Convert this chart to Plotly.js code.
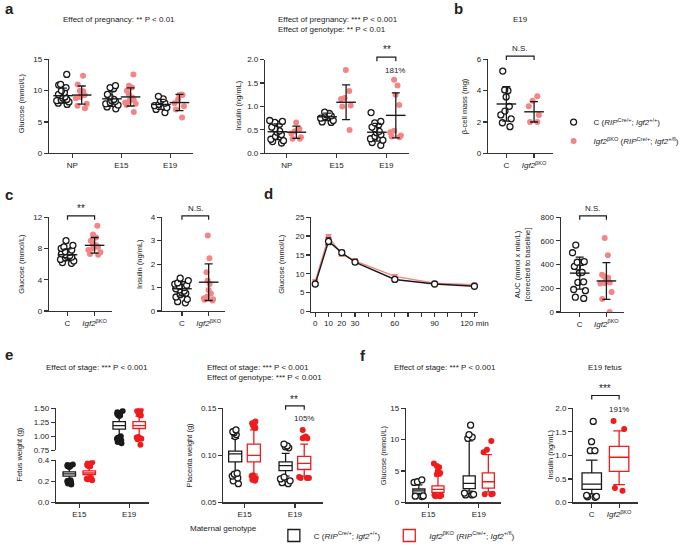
<!DOCTYPE html>
<html><head><meta charset="utf-8">
<script src="https://cdn.plot.ly/plotly-3.0.1.min.js"></script>
<style>html,body{margin:0;padding:0;background:#fff}#chart{width:685px;height:550px}</style>
</head><body><div id="chart"></div>
<script>
// ================= DATA =================
const stageLabels = ['NP', 'E15', 'E19'];
const genoLabels = ['C', '<i>Igf2</i><sup>βKO</sup>'];
const stageLabels2 = ['E15', 'E19'];

// a: glucose (mmol/L), groups NP, E15, E19
const aGluC = [[12.6,11.0,10.9,10.5,10.0,9.7,9.4,9.2,9.0,8.8,8.6,8.5,8.4,8.2,8.0,7.8],
               [10.8,10.5,10.3,9.4,9.0,8.6,8.4,8.3,8.1,7.9,7.7,7.4,7.1],
               [9.1,8.7,8.4,8.0,7.8,7.6,7.3,7.0,6.5]];
const aGluK = [[12.4,11.0,10.0,9.9,9.5,9.3,9.0,8.8,7.9,7.6,7.2],
               [12.6,10.8,10.5,10.0,9.4,8.9,8.7,8.5,8.3,8.1,7.9,7.7,6.6],
               [9.4,9.3,9.3,8.6,8.0,7.5,7.0,5.7]];
const aGluMeanC = [9.2, 8.7, 7.8],  aGluSdC = [1.2, 1.2, 0.8];
const aGluMeanK = [9.3, 9.0, 8.1],  aGluSdK = [1.45, 1.45, 1.3];

// a: insulin (ng/mL)
const aInsC = [[0.70,0.68,0.66,0.62,0.56,0.52,0.48,0.45,0.40,0.36,0.30,0.27,0.25,0.22],
               [0.88,0.85,0.82,0.80,0.78,0.75,0.70,0.67,0.66],
               [0.87,0.68,0.65,0.61,0.56,0.52,0.47,0.44,0.40,0.36,0.31,0.28,0.23,0.17]];
const aInsK = [[0.66,0.52,0.47,0.42,0.34,0.31,0.31],
               [1.78,1.33,1.18,1.16,1.02,1.00,0.50],
               [1.57,1.45,1.25,1.03,0.48,0.45,0.38,0.36,0.34]];
const aInsMeanC = [0.46, 0.78, 0.45], aInsSdC = [0.17, 0.08, 0.19];
const aInsMeanK = [0.45, 1.09, 0.81], aInsSdK = [0.13, 0.37, 0.48];

// b: beta-cell mass (mg) E19
const bMassC = [5.25,4.05,4.0,3.6,3.0,2.7,2.45,2.2,1.95,1.7];
const bMassK = [3.65,3.35,3.0,2.45,2.0,2.0];
const bMean = [3.15, 2.65], bSd = [1.1, 0.65];

// c: glucose and insulin
const cGluC = [9.0,8.4,8.2,8.0,7.8,7.6,7.5,7.3,7.2,7.1,7.0,6.9,6.8,6.6,6.4,6.2,6.1];
const cGluK = [10.9,9.8,9.4,9.0,8.6,8.4,8.3,8.2,8.0,7.8,7.5,7.3,7.2];
const cGluMean = [7.2, 8.4], cGluSd = [0.75, 1.0];
const cInsC = [1.40,1.30,1.20,1.15,1.10,1.05,1.00,0.95,0.90,0.85,0.80,0.75,0.70,0.60,0.50,0.40,0.35];
const cInsK = [3.22,2.25,1.65,1.30,1.15,0.90,0.75,0.62,0.55,0.50,0.48,0.45];
const cInsMean = [0.95, 1.23], cInsSd = [0.3, 0.78];

// d: OGTT
const dTime = [0, 10, 20, 30, 60, 90, 120];
const dGluC = [7.3, 18.6, 15.6, 13.1, 8.5, 7.3, 6.7];
const dSdC  = [0.3, 0.9, 0.6, 0.5, 0.3, 0.3, 0.3];
const dGluK = [8.0, 19.7, 15.2, 13.4, 9.3, 7.5, 7.1];
const dSdK  = [0.4, 0.7, 0.5, 0.6, 0.4, 0.3, 0.3];
const dAucC = [565,500,425,420,418,385,380,335,330,255,250,190,180,125,115];
const dAucK = [625,478,315,300,290,268,250,245,240,170,110,0];
const dAucMean = [328, 262], dAucSd = [135, 155];

// e: box stats [lower whisker, q1, median, q3, upper whisker]
const eFetusC = [[0.22,0.25,0.27,0.29,0.33], [1.01,1.13,1.19,1.26,1.35]];
const eFetusK = [[0.24,0.265,0.28,0.30,0.33], [1.00,1.14,1.19,1.26,1.36]];
const eFetusOutC = [[0.36,0.355,0.35,0.345,0.34,0.34,0.335,0.21,0.205,0.20,0.19,0.18,0.17],
                    [1.45,1.43,1.41,1.40,1.38,1.37,1.36,1.00,0.98,0.96,0.93,0.90,0.88]];
const eFetusOutK = [[0.38,0.37,0.36,0.355,0.35,0.345,0.34,0.235,0.23,0.225,0.22,0.22,0.21],
                    [1.47,1.45,1.43,1.41,1.39,1.37,0.99,0.98,0.96,0.95,0.85]];
const ePlacC = [[0.082,0.093,0.1015,0.1045,0.118], [0.078,0.0838,0.089,0.093,0.102]];
const ePlacK = [[0.080,0.093,0.100,0.112,0.127], [0.078,0.085,0.0915,0.099,0.112]];
const ePlacOutC = [[0.127,0.125,0.124,0.122,0.120,0.081,0.080,0.078,0.076,0.073,0.070],
                   [0.112,0.110,0.109,0.108,0.077,0.075,0.073,0.071,0.070]];
const ePlacOutK = [[0.136,0.134,0.132,0.131,0.130,0.129,0.079,0.078,0.076,0.074,0.073],
                   [0.127,0.120,0.119,0.118,0.118,0.077,0.076,0.076,0.076]];

// f: fetal glucose (E15, E19) and E19 fetal insulin
const fGluC = [[1.2,1.45,1.85,2.15,2.8], [1.8,2.2,3.05,4.25,9.8]];
const fGluK = [[1.3,1.6,2.1,2.65,4.2], [1.7,2.3,3.3,4.7,7.6]];
const fGluOutC = [[3.6,3.3,3.2,1.05,1.0,0.95], [12.3,10.8,10.4,10.2,1.5,1.3,1.2,1.2]];
const fGluOutK = [[6.2,5.8,5.6,5.0,4.7,4.5,1.2,1.1,1.0,1.0], [9.8,8.4,8.0,1.4,1.3,1.3]];
const fInsC = [0.18,0.28,0.39,0.63,0.90];
const fInsK = [0.38,0.66,0.96,1.19,1.52];
const fInsOutC = [1.72,1.29,1.10,1.10,0.15,0.13,0.12,0.11];
const fInsOutK = [1.73,1.56,0.31,0.25];

// ================= STYLE / HELPERS =================
const W = 685, H = 550;
const FONT = 'Arial, "Liberation Sans", Helvetica, sans-serif';
const BLK = '#1a1a1a', PINK = '#f28585', RED = '#ee1c1c', AXC = '#333333', TXT = '#222222';
const px = x => x / W;
const py = y => 1 - y / H;

const layout = {
  width: W, height: H, margin: {l: 0, r: 0, t: 0, b: 0},
  paper_bgcolor: '#fff', plot_bgcolor: 'rgba(0,0,0,0)',
  font: {family: FONT, size: 8, color: TXT},
  hovermode: false, showlegend: true, boxmode: 'overlay',
  shapes: [], annotations: []
};
const axStyle = {showline: true, linecolor: AXC, linewidth: 1.2, ticks: 'outside', ticklen: 4,
  tickwidth: 1.2, tickcolor: AXC, showgrid: false, zeroline: false, fixedrange: true,
  tickfont: {family: FONT, size: 8, color: TXT}, type: 'linear'};

function xAx(n, x0, x1, anchor, range, tickvals, ticktext) {
  layout[n === 1 ? 'xaxis' : 'xaxis' + n] = Object.assign({}, axStyle, {
    domain: [px(x0), px(x1)], anchor: anchor, range: range,
    tickmode: 'array', tickvals: tickvals, ticktext: ticktext});
}
function yAx(n, top, bot, anchor, range, dtick, fmt) {
  layout[n === 1 ? 'yaxis' : 'yaxis' + n] = Object.assign({}, axStyle, {
    domain: [py(bot), py(top)], anchor: anchor, range: range,
    tickmode: 'linear', tick0: range[0], dtick: dtick, tickformat: fmt});
}
function txt(x, y, text, o) {
  o = o || {};
  layout.annotations.push({xref: 'paper', yref: 'paper', x: px(x), y: py(y), text: text,
    showarrow: false, xanchor: o.xanchor || 'center', yanchor: o.yanchor || 'middle',
    textangle: o.angle || 0,
    font: {family: FONT, size: o.size || 8, color: TXT}});
}
function bracket(xa, x0, x1, ytop) {
  const yt = py(ytop).toFixed(5), yb = py(ytop + 4).toFixed(5);
  layout.shapes.push({type: 'path', xref: xa, yref: 'paper',
    path: 'M' + x0 + ',' + yb + ' L' + x0 + ',' + yt + ' L' + x1 + ',' + yt + ' L' + x1 + ',' + yb,
    line: {color: BLK, width: 1.2}});
}

const traces = [];
function dots(xa, ya, pos, vals, ko, w) {
  traces.push({type: 'box', xaxis: xa, yaxis: ya, x0: pos, y: vals, width: w,
    boxpoints: 'all', jitter: 1, pointpos: 0, whiskerwidth: 0,
    fillcolor: 'rgba(0,0,0,0)', line: {width: 0, color: 'rgba(0,0,0,0)'},
    marker: ko ? {color: PINK, size: 6, line: {width: 0}}
               : {color: '#ffffff', size: 6, line: {color: BLK, width: 1.3}},
    showlegend: false, hoverinfo: 'skip'});
}
function meanSd(xa, ya, xs, means, sds) {
  traces.push({type: 'scatter', mode: 'markers', xaxis: xa, yaxis: ya, x: xs, y: means,
    marker: {symbol: 'line-ew', size: 14, color: BLK, line: {color: BLK, width: 1.4}},
    error_y: {type: 'data', array: sds, visible: true, color: BLK, thickness: 1.3, width: 4},
    showlegend: false, hoverinfo: 'skip', cliponaxis: false});
}
function boxStat(xa, ya, pos, s, color, w, legendName, legendId) {
  const t = {type: 'box', xaxis: xa, yaxis: ya, x: [pos], lowerfence: [s[0]], q1: [s[1]],
    median: [s[2]], q3: [s[3]], upperfence: [s[4]], width: w, boxpoints: false,
    fillcolor: 'rgba(255,255,255,0)', line: {color: color, width: 1.3}, whiskerwidth: 0.6,
    showlegend: false, hoverinfo: 'skip'};
  if (legendName) { t.showlegend = true; t.legend = legendId; t.name = legendName; }
  traces.push(t);
}
function outliers(xa, ya, pos, vals, color, open, w) {
  traces.push({type: 'box', xaxis: xa, yaxis: ya, x0: pos, y: vals, width: w,
    boxpoints: 'all', jitter: 0.8, pointpos: 0, whiskerwidth: 0,
    fillcolor: 'rgba(0,0,0,0)', line: {width: 0, color: 'rgba(0,0,0,0)'},
    marker: open ? {color: '#ffffff', size: 6, line: {color: color, width: 1.3}}
                 : {color: color, size: 6, line: {width: 0}},
    showlegend: false, hoverinfo: 'skip'});
}

const off = 0.19;
const nameC = 'C (<i>RIP</i><sup>Cre/+</sup>; <i>Igf2</i><sup>+/+</sup>)';
const nameK = '<i>Igf2</i><sup>βKO</sup> (<i>RIP</i><sup>Cre/+</sup>; <i>Igf2</i><sup>+/fl</sup>)';

// ================= PANEL a =================
xAx(1, 50, 197, 'y', [-0.48, 2.46], [0, 1, 2], stageLabels);
yAx(1, 60.7, 156.7, 'x', [0, 15], 5, 'd');
xAx(2, 271, 418, 'y2', [-0.439, 2.452], [0, 1, 2], stageLabels);
yAx(2, 61, 156.7, 'x2', [0, 2], 0.5, '.1f');
for (let i = 0; i < 3; i++) {
  dots('x', 'y', i - off, aGluC[i], false, 0.32);
  dots('x', 'y', i + off, aGluK[i], true, 0.28);
  dots('x2', 'y2', i - off, aInsC[i], false, 0.32);
  dots('x2', 'y2', i + off, aInsK[i], true, 0.28);
}
meanSd('x', 'y', [0 - off, 1 - off, 2 - off], aGluMeanC, aGluSdC);
meanSd('x', 'y', [0 + off, 1 + off, 2 + off], aGluMeanK, aGluSdK);
meanSd('x2', 'y2', [0 - off, 1 - off, 2 - off], aInsMeanC, aInsSdC);
meanSd('x2', 'y2', [0 + off, 1 + off, 2 + off], aInsMeanK, aInsSdK);
bracket('x2', 2 - off, 2 + off, 58.5);
txt(396, 51, '**', {size: 10});
txt(404, 72, '181%');
txt(122, 20, 'Effect of pregnancy: ** P < 0.01');
txt(282, 20, 'Effect of pregnancy: *** P < 0.001', {xanchor: 'left'});
txt(282, 30, 'Effect of genotype: ** P < 0.01', {xanchor: 'left'});
txt(22, 106, 'Glucose (mmol/L)', {angle: -90, size: 7.5});
txt(244, 108, 'Insulin (ng/mL)', {angle: -90, size: 7.5});
txt(3, 9, '<b>a</b>', {xanchor: 'left', size: 15});

// ================= PANEL b =================
xAx(3, 499, 565, 'y3', [-0.66, 1.67], [0, 1], genoLabels);
yAx(3, 60.7, 156.7, 'x3', [0, 6], 2, 'd');
dots('x3', 'y3', 0, bMassC, false, 0.5);
dots('x3', 'y3', 1, bMassK, true, 0.45);
meanSd('x3', 'y3', [0, 1], bMean, bSd);
bracket('x3', 0, 1, 57.3);
txt(532, 50, 'N.S.');
txt(532, 20, 'E19');
txt(475, 109, 'β-cell mass (mg)', {angle: -90, size: 7.5});
txt(462, 9, '<b>b</b>', {xanchor: 'left', size: 15});
traces.push({type: 'scatter', mode: 'markers', xaxis: 'x3', yaxis: 'y3', x: [null], y: [null],
  name: nameC, legend: 'legend', showlegend: true,
  marker: {color: '#fff', size: 6, line: {color: BLK, width: 1.3}}});
traces.push({type: 'scatter', mode: 'markers', xaxis: 'x3', yaxis: 'y3', x: [null], y: [null],
  name: nameK, legend: 'legend', showlegend: true,
  marker: {color: PINK, size: 6, line: {width: 0}}});

// ================= PANEL c =================
xAx(4, 50, 115, 'y4', [-0.686, 1.66], [0, 1], genoLabels);
yAx(4, 222, 318, 'x4', [0, 12], 4, 'd');
xAx(5, 165.7, 230, 'y5', [-0.744, 1.61], [0, 1], genoLabels);
yAx(5, 222, 318, 'x5', [0, 4], 1, 'd');
dots('x4', 'y4', 0, cGluC, false, 0.62);
dots('x4', 'y4', 1, cGluK, true, 0.55);
meanSd('x4', 'y4', [0, 1], cGluMean, cGluSd);
dots('x5', 'y5', 0, cInsC, false, 0.62);
dots('x5', 'y5', 1, cInsK, true, 0.55);
meanSd('x5', 'y5', [0, 1], cInsMean, cInsSd);
bracket('x4', 0, 1, 220.7);
bracket('x5', 0, 1, 220.7);
txt(83, 213, '**', {size: 10});
txt(200, 213, 'N.S.');
txt(22, 270, 'Glucose (mmol/L)', {angle: -90, size: 7.5});
txt(142, 270, 'Insulin (ng/mL)', {angle: -90, size: 7.5});
txt(3, 199, '<b>c</b>', {xanchor: 'left', size: 15});

// ================= PANEL d =================
const dTicks = [0,10,20,30,40,50,60,70,80,90,100,110,120];
const dTickText = ['0','10','20','30','','','60','','','90','','','120 min'];
xAx(6, 318.3, 489, 'y6', [-2.95, 122.95], dTicks, dTickText);
yAx(6, 222, 318.5, 'x6', [0, 25], 5, 'd');
traces.push({type: 'scatter', mode: 'lines+markers', xaxis: 'x6', yaxis: 'y6', x: dTime, y: dGluK,
  line: {color: PINK, width: 1.4}, marker: {color: PINK, size: 5, symbol: 'square'},
  error_y: {type: 'data', array: dSdK, visible: true, color: PINK, thickness: 1.2, width: 3},
  showlegend: false, hoverinfo: 'skip', cliponaxis: false});
traces.push({type: 'scatter', mode: 'lines+markers', xaxis: 'x6', yaxis: 'y6', x: dTime, y: dGluC,
  line: {color: BLK, width: 1.4}, marker: {color: '#fff', size: 6, line: {color: BLK, width: 1.3}},
  error_y: {type: 'data', array: dSdC, visible: true, color: BLK, thickness: 1.2, width: 3},
  showlegend: false, hoverinfo: 'skip', cliponaxis: false});
txt(287, 270, 'Glucose (mmol/L)', {angle: -90, size: 7.5});
txt(268, 198, '<b>d</b>', {xanchor: 'left', size: 15});

xAx(7, 573.3, 638, 'y7', [-0.71, 1.66], [0, 1], genoLabels);
yAx(7, 222, 319, 'x7', [0, 800], 200, 'd');
dots('x7', 'y7', 0, dAucC, false, 0.62);
dots('x7', 'y7', 1, dAucK, true, 0.55);
meanSd('x7', 'y7', [0, 1], dAucMean, dAucSd);
bracket('x7', 0, 1, 220.7);
txt(606, 213, 'N.S.');
txt(534, 270, 'AUC (mmol x min/L)<br>[corrected to baseline]', {angle: -90, size: 7.5});

// ================= PANEL e =================
// fetus weight: broken axis (bottom y8, top y12) sharing x8
xAx(8, 57.3, 152, 'y8', [-0.465, 1.39], [0, 1], stageLabels2);
yAx(8, 470.5, 513.7, 'x8', [0, 0.4], 0.2, '.1f');
yAx(12, 417.3, 460.5, 'x8', [0.75, 1.5], 0.25, '.2f');
const eo = 0.2;
boxStat('x8', 'y8', 0 - eo, eFetusC[0], BLK, 0.25);
boxStat('x8', 'y8', 0 + eo, eFetusK[0], RED, 0.25);
boxStat('x8', 'y12', 1 - eo, eFetusC[1], BLK, 0.25);
boxStat('x8', 'y12', 1 + eo, eFetusK[1], RED, 0.25);
outliers('x8', 'y8', 0 - eo, eFetusOutC[0], BLK, false, 0.28);
outliers('x8', 'y8', 0 + eo, eFetusOutK[0], RED, false, 0.28);
outliers('x8', 'y12', 1 - eo, eFetusOutC[1], BLK, false, 0.28);
outliers('x8', 'y12', 1 + eo, eFetusOutK[1], RED, false, 0.28);

xAx(9, 228.3, 330, 'y9', [-0.421, 1.553], [0, 1], stageLabels2);
yAx(9, 417.3, 513.7, 'x9', [0.05, 0.15], 0.05, '.2f');
const po = 0.185;
for (let i = 0; i < 2; i++) {
  boxStat('x9', 'y9', i - po, ePlacC[i], BLK, 0.26);
  boxStat('x9', 'y9', i + po, ePlacK[i], RED, 0.26);
  outliers('x9', 'y9', i - po, ePlacOutC[i], BLK, true, 0.3);
  outliers('x9', 'y9', i + po, ePlacOutK[i], RED, false, 0.3);
}
bracket('x9', 1 - po, 1 + po, 415);
txt(301, 408, '**', {size: 10});
txt(311, 428, '105%');
txt(99, 376, 'Effect of stage: *** P < 0.001');
txt(210, 376, 'Effect of stage: *** P < 0.001', {xanchor: 'left'});
txt(210, 385.5, 'Effect of genotype: *** P < 0.001', {xanchor: 'left'});
txt(20, 465, 'Fetus weight (g)', {angle: -90, size: 7.5});
txt(194, 465, 'Placenta weight (g)', {angle: -90, size: 7.5});
txt(3, 362, '<b>e</b>', {xanchor: 'left', size: 15});

// ================= PANEL f =================
xAx(10, 415, 512, 'y10', [-0.447, 1.437], [0, 1], stageLabels2);
yAx(10, 417.3, 513.7, 'x10', [0, 15], 5, 'd');
const fo = 0.19;
for (let i = 0; i < 2; i++) {
  boxStat('x10', 'y10', i - fo, fGluC[i], BLK, 0.24);
  boxStat('x10', 'y10', i + fo, fGluK[i], RED, 0.24);
  outliers('x10', 'y10', i - fo, fGluOutC[i], BLK, true, 0.28);
  outliers('x10', 'y10', i + fo, fGluOutK[i], RED, false, 0.28);
}
xAx(11, 586, 652, 'y11', [-0.679, 1.68], [0, 1], genoLabels);
yAx(11, 417.3, 513.7, 'x11', [0, 2], 0.5, '.1f');
boxStat('x11', 'y11', 0, fInsC, BLK, 0.71, nameC, 'legend2');
boxStat('x11', 'y11', 1, fInsK, RED, 0.71, nameK, 'legend3');
outliers('x11', 'y11', 0, fInsOutC, BLK, true, 0.6);
outliers('x11', 'y11', 1, fInsOutK, RED, false, 0.6);
bracket('x11', 0, 1, 404.3);
txt(619, 397.5, '***', {size: 10});
txt(633, 418.3, '191%');
txt(455, 376, 'Effect of stage: *** P < 0.001');
txt(619, 376, 'E19 fetus');
txt(392, 465, 'Glucose (mmol/L)', {angle: -90, size: 7.5});
txt(563, 465, 'Insulin (ng/mL)', {angle: -90, size: 7.5});
txt(366, 363, '<b>f</b>', {xanchor: 'left', size: 15});

// bottom legend caption
txt(192, 540, 'Maternal genotype', {xanchor: 'left'});

const legFont = {family: FONT, size: 8, color: TXT};
layout.legend = {x: px(566), y: py(110), xanchor: 'left', yanchor: 'top',
  font: legFont, bgcolor: 'rgba(0,0,0,0)', itemwidth: 30, tracegroupgap: 0};
layout.legend2 = {orientation: 'h', x: px(280), y: py(533), xanchor: 'left', yanchor: 'top',
  font: legFont, bgcolor: 'rgba(0,0,0,0)', itemwidth: 30};
layout.legend3 = {orientation: 'h', x: px(398), y: py(533), xanchor: 'left', yanchor: 'top',
  font: legFont, bgcolor: 'rgba(0,0,0,0)', itemwidth: 30};

Plotly.newPlot('chart', traces, layout, {staticPlot: true, displayModeBar: false});
</script>
</body></html>
